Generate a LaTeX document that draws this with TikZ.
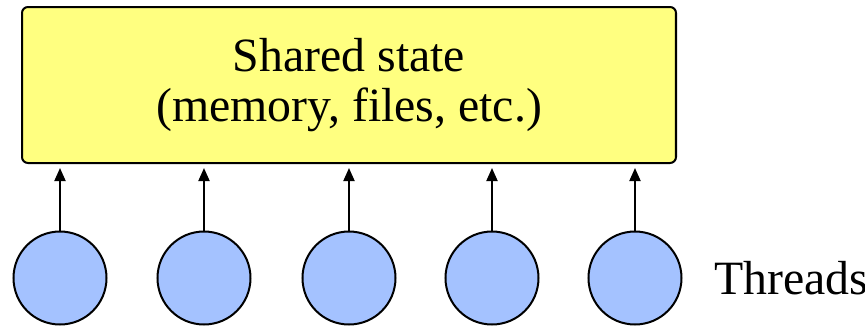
\documentclass[tikz,border=0pt]{standalone}
\usepackage{fontspec}
\setmainfont{Liberation Serif}
\usepackage{xcolor}
\definecolor{stateyellow}{RGB}{255,255,128}
\definecolor{threadblue}{RGB}{164,194,255}
\usetikzlibrary{arrows.meta}
\usetikzlibrary{positioning}
\tikzset{
    state/.style={draw, line width=0.02cm, rounded corners=0.6mm, fill=stateyellow,
        minimum width=6.54cm, minimum height=1.56cm, align=center,
        font=\fontsize{13.6}{14.3}\selectfont},
    thread/.style={draw, circle, line width=0.02cm, fill=threadblue, minimum size=0.93cm, inner sep=0pt},
    access/.style={-{Triangle[width=1.1mm,length=1.3mm]}, line width=0.02cm, shorten >=0.04cm},
    caption/.style={anchor=west, inner sep=0pt, font=\fontsize{13.6}{14.3}\selectfont}
}

\begin{document}
\begin{tikzpicture}
    \useasboundingbox (0,0) rectangle (8.65,3.28);

    \node[state] (shared) at (3.49,2.43) {Shared state\\(memory, files, etc.)};

    % one circle per thread, each pointing up at the shared state
    \foreach \i/\x in {1/0.60, 2/2.04, 3/3.49, 4/4.92, 5/6.35} {
        \node[thread] (t\i) at (\x,0.50) {};
        \draw[access] (t\i.north) -- (t\i.north |- shared.south);
    }

    \node[caption, right=0.31cm of t5] (threads) {Threads};
\end{tikzpicture}
\end{document}
